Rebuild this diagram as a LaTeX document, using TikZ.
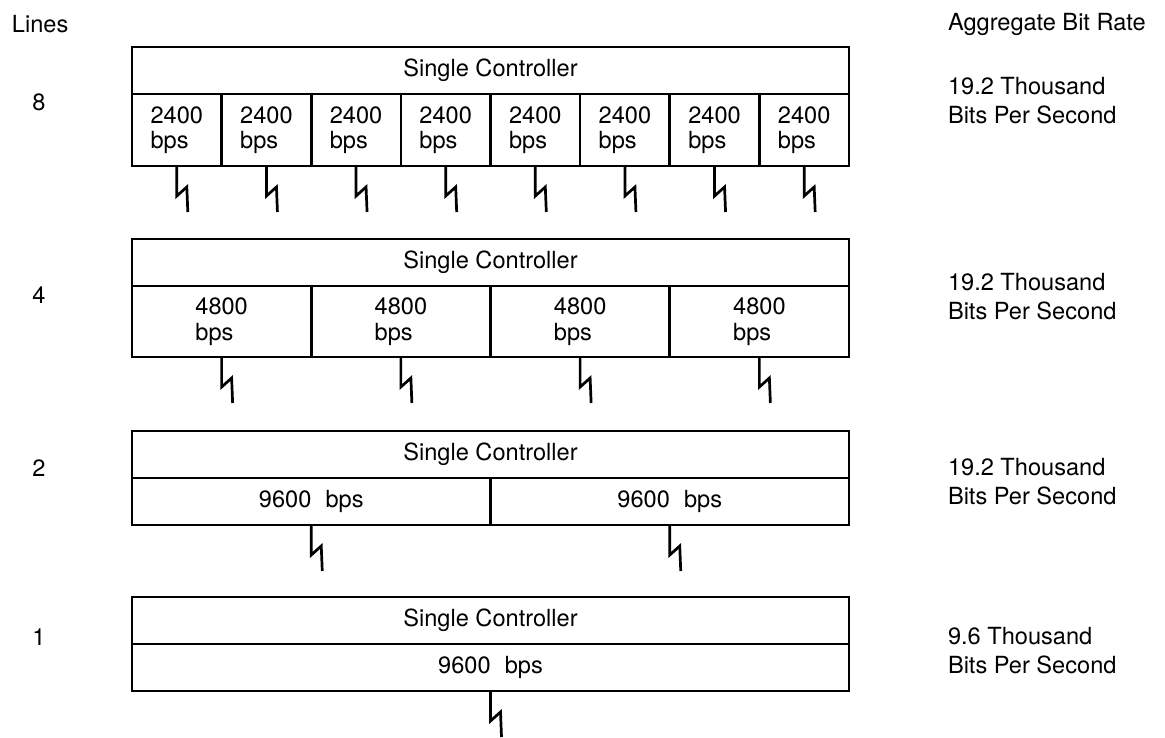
\documentclass[tikz,border=0pt]{standalone}
\usepackage{fontspec}
\setmainfont{TeX Gyre Heros}
\usetikzlibrary{positioning}

\begin{document}
\begin{tikzpicture}[x=1pt,y=-1pt,line width=2.7pt,
every node/.style={font=\fontsize{23.6}{25.5}\selectfont,inner sep=0pt,outer sep=0pt},
ctrl/.style={draw,minimum width=717pt,minimum height=47pt},
slot/.style 2 args={draw,align=left,minimum width=#1,minimum height=#2},
rate/.style={anchor=north west,align=left,font=\fontsize{23.6}{29}\selectfont}]
\useasboundingbox (0,0) rectangle (1165,737);
\node[anchor=base west](lines) at (12,32){Lines};
\node[anchor=base west](aggr) at (948,30){Aggregate Bit Rate};
% 8 lines
\node[ctrl,anchor=north west](ctrlA) at (132,47){Single Controller};
\node[slot={89.625pt}{72pt},below right=0pt and 0pt of ctrlA.south west](sA1){2400\\bps};
\foreach \i [remember=\i as \j (initially 1)] in {2,...,8}
  \node[slot={89.625pt}{72pt},right=0pt of sA\j](sA\i){2400\\bps};
\foreach \i in {1,...,8} \draw (sA\i.south) -- ++(0,30) -- ++(10,-9) -- ++(1,25);
\node[anchor=base](numA) at (39,110){8};
\node[rate](rateA) at (948,77){19.2 Thousand\\Bits Per Second};
% 4 lines
\node[ctrl,below right=73pt and 0pt of sA1.south west](ctrlB){Single Controller};
\node[slot={179.25pt}{71pt},below right=0pt and 0pt of ctrlB.south west](sB1){4800\\bps};
\foreach \i [remember=\i as \j (initially 1)] in {2,...,4}
  \node[slot={179.25pt}{71pt},right=0pt of sB\j](sB\i){4800\\bps};
\foreach \i in {1,...,4} \draw (sB\i.south) -- ++(0,30) -- ++(10,-9) -- ++(1,25);
\node[anchor=base](numB) at (39,303){4};
\node[rate](rateB) at (948,273){19.2 Thousand\\Bits Per Second};
% 2 lines
\node[ctrl,below right=74pt and 0pt of sB1.south west](ctrlC){Single Controller};
\node[slot={358.5pt}{47pt},below right=0pt and 0pt of ctrlC.south west](sC1){9600\hspace{.6em}bps};
\node[slot={358.5pt}{47pt},right=0pt of sC1](sC2){9600\hspace{.6em}bps};
\foreach \i in {1,2} \draw (sC\i.south) -- ++(0,30) -- ++(10,-9) -- ++(1,25);
\node[anchor=base](numC) at (39,476){2};
\node[rate](rateC) at (948,458){19.2 Thousand\\Bits Per Second};
% 1 line
\node[ctrl,below right=72pt and 0pt of sC1.south west](ctrlD){Single Controller};
\node[slot={717pt}{47pt},below right=0pt and 0pt of ctrlD.south west](sD1){9600\hspace{.6em}bps};
\draw (sD1.south) -- ++(0,30) -- ++(10,-9) -- ++(1,25);
\node[anchor=base](numD) at (39,645){1};
\node[rate](rateD) at (948,627){9.6 Thousand\\Bits Per Second};
\end{tikzpicture}
\end{document}
